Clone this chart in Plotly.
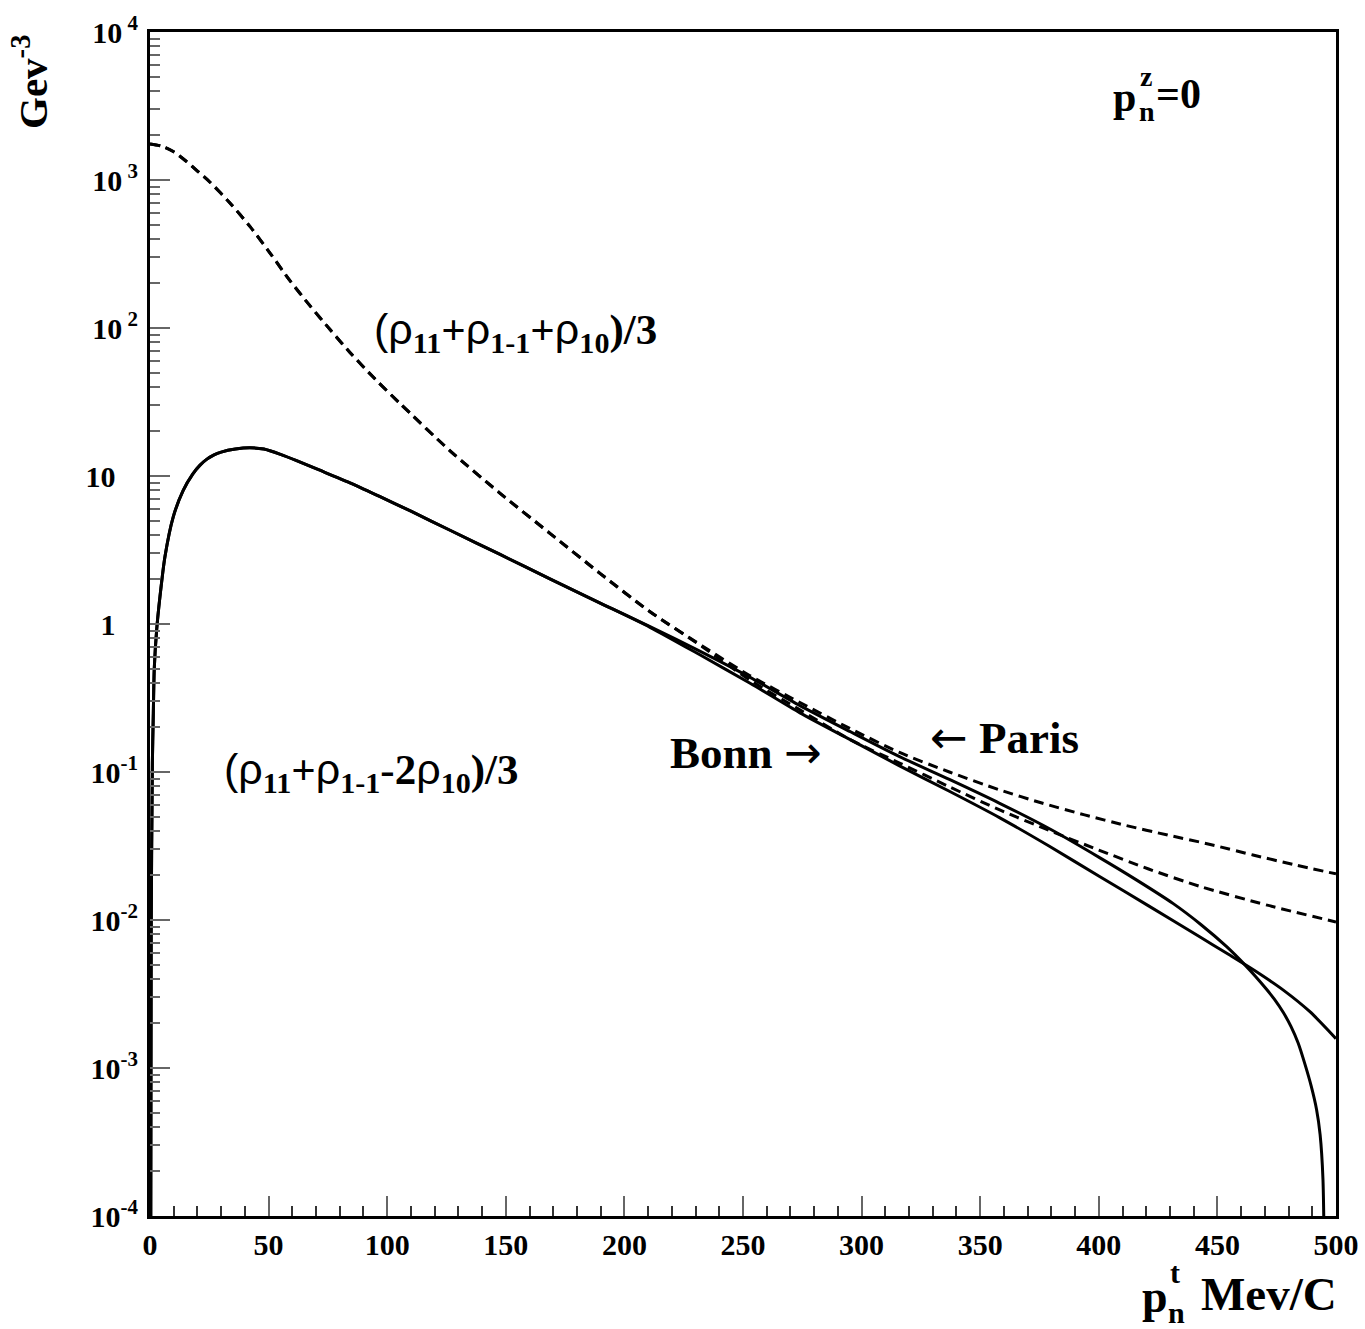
import plotly.graph_objects as go

# ---------------- data ----------------
# dashed: (rho11 + rho1-1 + rho10)/3 ; part shared by both potentials
dash_common_x = [0, 5, 10, 15, 20, 25.3, 33.7, 42.2, 50.6, 59, 67.5, 75.9, 84.3, 94.9,
                 105.4, 126.5, 147.6, 168.6, 189.7, 210.8]
dash_common_y = [1750, 1690, 1550, 1350, 1150, 966, 700, 484, 321, 209, 141, 97.7, 68.4,
                 45.2, 30.9, 14.8, 7.64, 4.10, 2.20, 1.21]

dash_paris_x = [233, 253, 274, 295, 316, 337, 358, 376, 394, 411, 429, 447, 465, 482, 500]
dash_paris_y = [0.708, 0.447, 0.295, 0.197, 0.1355, 0.100, 0.0759, 0.0617, 0.0513, 0.0437,
                0.0375, 0.0324, 0.0275, 0.0237, 0.0205]

dash_bonn_x = [233, 253, 274, 295, 316, 337, 358, 379, 400, 421, 443, 471, 500]
dash_bonn_y = [0.700, 0.417, 0.263, 0.166, 0.115, 0.0794, 0.0556, 0.0403, 0.0297, 0.0221,
               0.0168, 0.0126, 0.0097]

# solid: (rho11 + rho1-1 - 2 rho10)/3 ; shared part
solid_common_x = [0.3, 0.5, 1.0, 1.4, 1.8, 2.8, 4.2, 6.3, 9.8, 14, 18, 21, 24, 27, 30, 36,
                  42, 48, 55, 61.8, 70, 84.3, 97, 110, 126.5, 147.6, 168.6, 190]
solid_common_y = [5e-5, 0.0085, 0.115, 0.25, 0.50, 0.91, 1.53, 2.85, 5.3, 8.0, 10.3, 11.8,
                  13.0, 13.9, 14.5, 15.2, 15.5, 15.2, 14.0, 12.7, 11.2, 9.0, 7.25, 5.78,
                  4.30, 2.95, 2.02, 1.38]

solid_paris_x = [210.8, 232, 253, 274, 295, 316, 337, 358, 380, 400.5, 416, 431.4, 443,
                 453.9, 462, 466, 470.8, 474, 477.8, 481, 484, 487, 489.5, 491.8, 493.3,
                 494.5, 495.2]
solid_paris_y = [0.96, 0.653, 0.436, 0.281, 0.188, 0.127, 0.0891, 0.0617, 0.0407, 0.0263,
                 0.0186, 0.0129, 0.00933, 0.0066, 0.0049, 0.00417, 0.00339, 0.00292,
                 0.00237, 0.00191, 0.00148, 0.00105, 0.00076, 0.000525, 0.000355,
                 0.000178, 3.2e-5]

solid_bonn_x = [210.8, 232, 253, 274, 295, 316, 337, 358.3, 379, 400.5, 421, 442.7, 455,
                466, 477.8, 489, 500]
solid_bonn_y = [0.95, 0.617, 0.398, 0.251, 0.166, 0.110, 0.0741, 0.049, 0.0316, 0.0196,
                0.01245, 0.00767, 0.00582, 0.00452, 0.00336, 0.0024, 0.00158]

x_ticks = [0, 50, 100, 150, 200, 250, 300, 350, 400, 450, 500]
y_ticks = [1e-4, 1e-3, 1e-2, 1e-1, 1, 10, 1e2, 1e3, 1e4]
NB = "\u00a0"
y_ticktext = ["10<sup>-4</sup>", "10<sup>-3</sup>", "10<sup>-2</sup>", "10<sup>-1</sup>",
              "1" + NB * 3, "10" + NB * 3, "10<sup> 2</sup>", "10<sup> 3</sup>",
              "10<sup> 4</sup>"]
y_minor = [k * 10.0 ** e for e in range(-4, 4) for k in range(2, 10)]

FONT = "Liberation Serif"
RHO = "<span style=\"font-family:'Liberation Sans';font-weight:normal\">ρ</span>"
PAREN_L = "<span style=\"font-family:'Liberation Sans';font-weight:normal\">(</span>"
RARR = "<span style=\"font-family:'DejaVu Sans';font-weight:normal\">→</span>"
LARR = "<span style=\"font-family:'DejaVu Sans';font-weight:normal\">←</span>"

fig = go.Figure()

dash_style = dict(color="black", width=3, dash="10px,6px")
solid_style = dict(color="black", width=3)

for xs, ys, st in [
    (dash_common_x + dash_paris_x, dash_common_y + dash_paris_y, dash_style),
    (dash_common_x + dash_bonn_x, dash_common_y + dash_bonn_y, dash_style),
    (solid_common_x + solid_paris_x, solid_common_y + solid_paris_y, solid_style),
    (solid_common_x + solid_bonn_x, solid_common_y + solid_bonn_y, solid_style),
]:
    fig.add_trace(go.Scatter(x=xs, y=ys, mode="lines", line=dict(st, shape="spline",
                                                                  smoothing=0.7),
                             showlegend=False, hoverinfo="skip"))

L, R, T, B = 150, 29, 32, 113
W, H = 1365, 1329
PW, PH = W - L - R, H - T - B


def px(x):
    return (x - L) / PW


def py(y):
    return (H - B - y) / PH


def ann(text, x, y, size, xanchor="center", yanchor="middle", angle=0):
    fig.add_annotation(text="<b>" + text + "</b>", x=px(x), y=py(y), xref="paper",
                       yref="paper", xanchor=xanchor, yanchor=yanchor, showarrow=False,
                       textangle=angle,
                       font=dict(family=FONT, size=size, color="black"))


ann(PAREN_L + RHO + "<sub>11</sub>+" + RHO + "<sub>1-1</sub>+" + RHO + "<sub>10</sub>)/3",
    515, 332, 43)
ann(PAREN_L + RHO + "<sub>11</sub>+" + RHO + "<sub>1-1</sub>-2" + RHO + "<sub>10</sub>)/3",
    371, 772, 43)
ann("Bonn " + RARR, 668, 752, 45, xanchor="left")
ann(LARR + " Paris", 928, 737, 45, xanchor="left")

# p_n^z = 0
ann("p", 1138, 97, 42, xanchor="right")
ann("z", 1146, 76, 28)
ann("n", 1147, 111, 28)
ann("=0", 1154, 94, 42, xanchor="left")

# x-axis title  p_n^t  Mev/C
ann("p", 1170, 1296, 46, xanchor="right")
ann("t", 1175, 1272, 30)
ann("n", 1176, 1312, 30)
ann("Mev/C", 1199, 1294, 47, xanchor="left")

# y-axis title
ann("Gev<sup>-3</sup>", 30, 82, 41, angle=-90)

fig.update_layout(
    width=W, height=H,
    margin=dict(l=L, r=R, t=T, b=B, autoexpand=False),
    paper_bgcolor="white", plot_bgcolor="white",
    font=dict(family=FONT, color="black"),
    showlegend=False,
)

fig.update_xaxes(
    range=[0, 500], showgrid=False, zeroline=False, automargin=False,
    showline=True, linecolor="black", linewidth=3, mirror=True,
    tickvals=x_ticks, ticks="inside", ticklen=20, tickwidth=2, tickcolor="#666",
    tickfont=dict(family=FONT, size=30, color="black", weight="bold"),
    minor=dict(dtick=10, tick0=0, ticks="inside", ticklen=10, tickwidth=1.5,
               tickcolor="#333", showgrid=False),
)
fig.update_yaxes(
    type="log", range=[-4, 4], showgrid=False, zeroline=False, automargin=False,
    showline=True, linecolor="black", linewidth=3, mirror=True,
    tickvals=y_ticks, ticktext=y_ticktext, ticks="inside", ticklen=20, tickwidth=2,
    tickcolor="#666", ticklabelstandoff=3,
    tickfont=dict(family=FONT, size=30, color="black", weight="bold"),
    minor=dict(tickvals=y_minor, ticks="inside", ticklen=10, tickwidth=1.5,
               tickcolor="#666", showgrid=False),
)

fig.write_html("out.html")
